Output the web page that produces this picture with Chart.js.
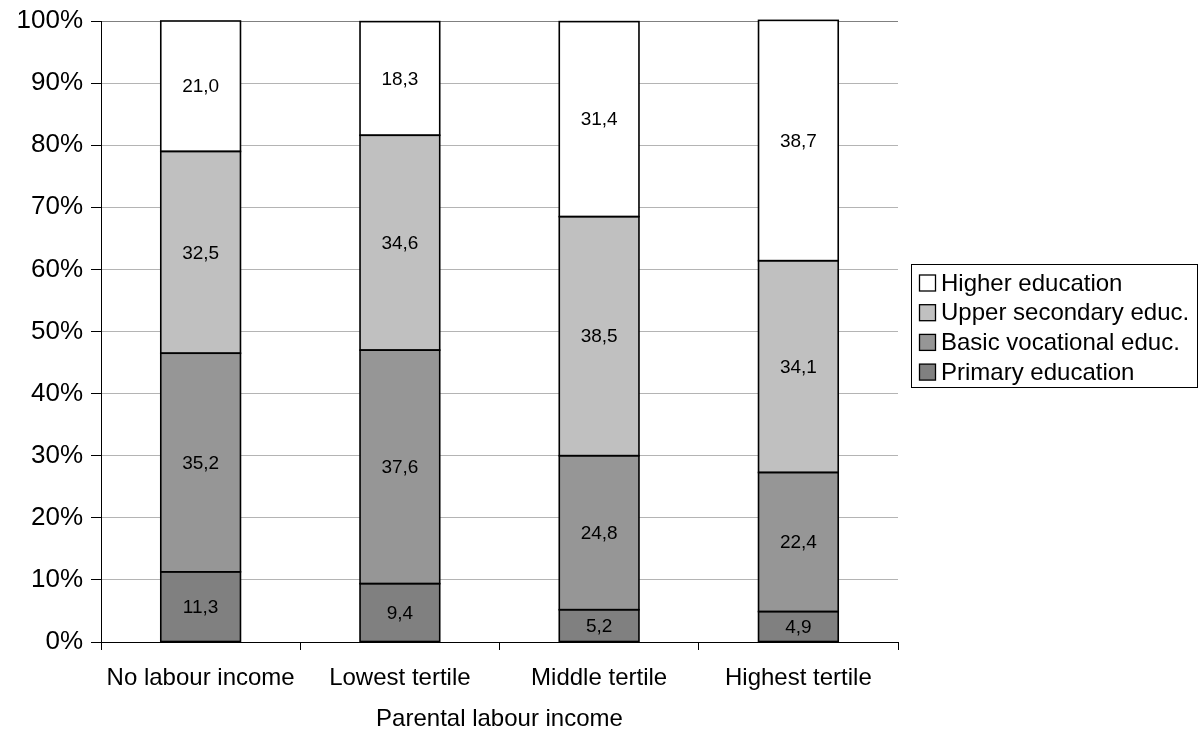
<!DOCTYPE html>
<html>
<head>
<meta charset="utf-8">
<script src="https://cdn.jsdelivr.net/npm/chart.js@4"></script>
<style>
  html, body { margin: 0; padding: 0; background: #fff; }
  #wrap { width: 1199px; height: 729px; }
</style>
</head>
<body>
<div id="wrap"><canvas id="myChart" width="1199" height="729"></canvas></div>
<script>
const categories = ['No labour income', 'Lowest tertile', 'Middle tertile', 'Highest tertile'];
const primary = [11.3, 9.4, 5.2, 4.9];
const basicVocational = [35.2, 37.6, 24.8, 22.4];
const upperSecondary = [32.5, 34.6, 38.5, 34.1];
const higher = [21.0, 18.3, 31.4, 38.7];
const yTicks = [0, 10, 20, 30, 40, 50, 60, 70, 80, 90, 100];

const FONT = '"Liberation Sans", Arial, sans-serif';

// outlines + numbers inside the segments (decimal comma)
const segmentLabels = {
    id: 'segmentLabels',
    afterDatasetsDraw(chart) {
        const c = chart.ctx;
        c.save();
        c.strokeStyle = '#000';
        c.lineWidth = 1.6;
        chart.data.datasets.forEach((ds, i) => {
            chart.getDatasetMeta(i).data.forEach((bar) => {
                const left = bar.x - bar.width / 2;
                c.strokeRect(left, bar.y, bar.width, bar.base - bar.y);
            });
        });
        c.font = '19px ' + FONT;
        c.fillStyle = '#000';
        c.textAlign = 'center';
        c.textBaseline = 'middle';
        chart.data.datasets.forEach((ds, i) => {
            chart.getDatasetMeta(i).data.forEach((bar, j) => {
                const txt = ds.data[j].toFixed(1).replace('.', ',');
                c.fillText(txt, bar.x, (bar.y + bar.base) / 2 + 1);
            });
        });
        c.restore();
    }
};

// boxed legend on the right, top item = last dataset
const boxLegend = {
    id: 'boxLegend',
    afterDraw(chart) {
        const c = chart.ctx;
        const left = 911, top = 264, w = 286, h = 123;
        c.save();
        c.strokeStyle = '#000';
        c.lineWidth = 1;
        c.strokeRect(left + 0.5, top + 0.5, w, h);
        c.font = '24px ' + FONT;
        c.textBaseline = 'middle';
        const ds = chart.data.datasets.slice().reverse();
        ds.forEach((d, i) => {
            const y = 283 + i * 29.7;
            c.fillStyle = d.backgroundColor;
            c.fillRect(919.5, y - 8, 16, 16);
            c.lineWidth = 1.3;
            c.strokeRect(919.5, y - 8, 16, 16);
            c.fillStyle = '#000';
            c.fillText(d.label, 941, y + 1);
        });
        c.restore();
    }
};

function ds(label, data, color) {
    return {
        label: label,
        data: data,
        backgroundColor: color,
        borderWidth: 0,
        categoryPercentage: 1.0,
        barPercentage: 0.4
    };
}

const ctx = document.getElementById('myChart').getContext('2d');
const myChart = new Chart(ctx, {
    type: 'bar',
    data: {
        labels: categories,
        datasets: [
            ds('Primary education', primary, '#808080'),
            ds('Basic vocational educ.', basicVocational, '#969696'),
            ds('Upper secondary educ.', upperSecondary, '#c0c0c0'),
            ds('Higher education', higher, '#ffffff')
        ]
    },
    options: {
        responsive: false,
        animation: false,
        layout: { padding: { top: 21, right: 301, left: 0, bottom: 0 } },
        plugins: {
            legend: { display: false },
            tooltip: { enabled: false }
        },
        scales: {
            x: {
                stacked: true,
                afterFit: (s) => { s.height = 87; },
                grid: {
                    offset: true,
                    drawOnChartArea: false,
                    tickLength: 8,
                    tickColor: '#000'
                },
                border: { color: '#000', width: 1 },
                ticks: {
                    color: '#000',
                    padding: 14,
                    font: { size: 24, family: FONT }
                },
                title: {
                    display: true,
                    text: 'Parental labour income',
                    color: '#000',
                    padding: { top: 4, bottom: -2 },
                    font: { size: 24, family: FONT, lineHeight: 1.0 }
                }
            },
            y: {
                stacked: true,
                min: 0,
                max: 100,
                afterFit: (s) => { s.width = 101; },
                afterBuildTicks: (s) => { s.ticks = yTicks.map(v => ({ value: v })); },
                grid: {
                    color: (c) => c.tick && c.tick.value === 100 ? '#808080' : '#b4b4b4',
                    tickLength: 10,
                    tickColor: '#000'
                },
                border: { color: '#000', width: 1 },
                ticks: {
                    color: '#000',
                    padding: 8,
                    font: { size: 26, family: FONT, lineHeight: 1.0 },
                    callback: (v) => v + '%'
                }
            }
        }
    },
    plugins: [segmentLabels, boxLegend]
});
</script>
</body>
</html>
